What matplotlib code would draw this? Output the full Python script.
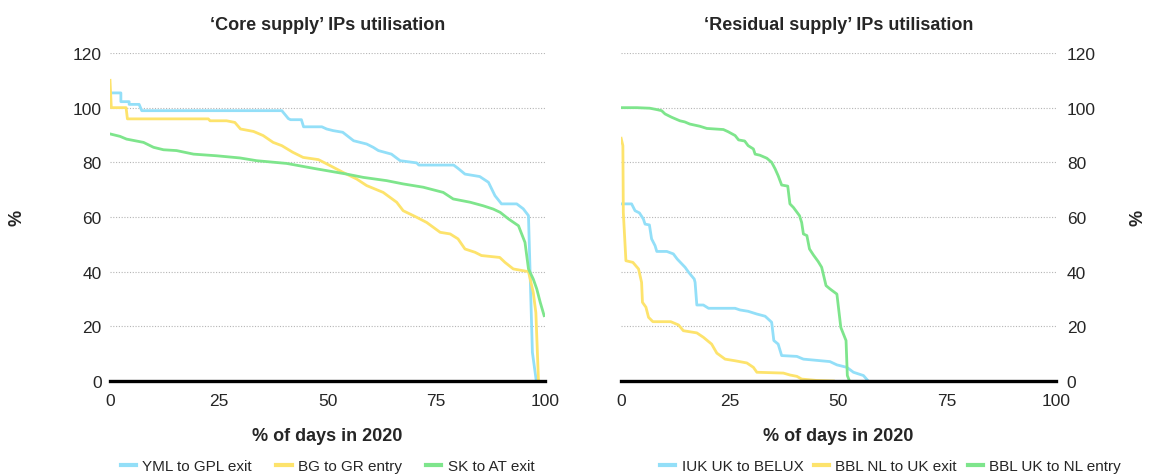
import matplotlib
matplotlib.use("Agg")
import matplotlib.pyplot as plt
from matplotlib import font_manager

# ---------------- data ----------------
core_title = "\u2018Core supply\u2019 IPs utilisation"
resid_title = "\u2018Residual supply\u2019 IPs utilisation"
x_label = "% of days in 2020"
y_label = "%"
x_ticks = [0, 25, 50, 75, 100]
y_ticks = [0, 20, 40, 60, 80, 100, 120]

yml_name = "YML to GPL exit"
yml_x = [0, 2.5, 2.5, 4.4, 4.4, 6.7, 7.3, 39.5, 41, 41.5, 44, 44.5, 48.7, 49.8, 51.3, 53.5, 56, 59,
         60.5, 61.7, 64.7, 66.7, 70.5, 71, 79, 80, 81.6, 85, 87, 88.5, 90, 93.5, 95, 96.2, 97.1, 98]
yml_y = [105.4, 105.4, 102.2, 102.2, 101.2, 101.2, 98.9, 98.9, 96, 95.6, 95.6, 93, 93, 92.2, 91.6, 91,
         87.9, 86.7, 85.5, 84.3, 83, 80.6, 79.8, 79, 79, 77.8, 75.7, 74.8, 72.7, 67.8, 64.8, 64.8, 63,
         60.5, 10.5, 0]

bg_name = "BG to GR entry"
bg_x = [0, 0.3, 3.7, 4, 22.6, 23, 26.8, 28.7, 30, 33, 35.2, 37.5, 39.5, 42, 44.4, 47.9, 50.6, 53.6,
        56.7, 59, 62.8, 65.9, 67.4, 70.5, 72.8, 75.9, 78.2, 80, 81.6, 83.9, 85.4, 89.6, 90.8, 92.7,
        96.2, 97.3, 97.9, 98.5]
bg_y = [110, 100, 100, 95.9, 95.9, 95.2, 95.2, 94.6, 92.2, 91.3, 89.8, 87.3, 86.1, 83.7, 81.8, 81,
        78.8, 76.3, 73.9, 71.5, 69, 65.4, 62.3, 59.9, 58, 54.4, 53.8, 52, 48.3, 47.1, 45.9, 45.2, 43.4,
        41, 40, 32.4, 25, 0]

sk_name = "SK to AT exit"
sk_x = [0, 2.3, 3.8, 7.7, 10, 12.3, 15.3, 19.2, 24.5, 29.9, 33.7, 40.6, 47.5, 54.4, 58.2, 63.6, 67.4,
        72, 76.6, 78.9, 82.8, 85.8, 88.1, 89.7, 91.6, 93.9, 95.4, 96.2, 97.3, 98.1, 98.9, 99.8]
sk_y = [90.4, 89.5, 88.5, 87.3, 85.5, 84.6, 84.3, 83, 82.4, 81.6, 80.6, 79.6, 77.6, 75.7, 74.5, 73.3,
        72.1, 70.9, 69, 66.6, 65.4, 64.1, 62.9, 61.7, 59.3, 56.8, 50.7, 41, 37.3, 33.7, 28.8, 23.9]

iuk_name = "IUK UK to BELUX"
iuk_x = [0, 2.5, 3.3, 4.3, 5.2, 5.6, 6.6, 7.1, 7.9, 8.3, 10.6, 12.1, 13, 14.8, 15.6, 16.9, 17.1, 17.5,
         19, 20.2, 26.3, 27.4, 29.3, 31.3, 33.2, 34.7, 35.2, 36.2, 37, 40.5, 42, 48.1, 49.7, 52, 53.5,
         55.8, 56.9]
iuk_y = [64.8, 64.8, 62.3, 61.5, 59.3, 57.4, 57.1, 52, 49.5, 47.4, 47.4, 46.5, 44.6, 41.6, 39.8, 37.3,
         36.1, 27.8, 27.8, 26.6, 26.6, 26, 25.5, 24.5, 23.7, 21.5, 14.8, 13.5, 9.3, 9, 8, 7.1, 5.9, 5,
         3.2, 2, 0]

bblnl_name = "BBL NL to UK exit"
bblnl_x = [0.1, 0.5, 0.6, 1.2, 2.8, 4.1, 4.8, 5, 5.8, 6.4, 7.4, 11.5, 13.3, 14.4, 17.5, 19, 20.9, 22.1,
           24, 26.3, 29, 30.5, 31.3, 37.4, 38.9, 40.5, 41.6, 45, 48.9]
bblnl_y = [88.8, 86.1, 61.7, 44, 43.4, 41, 36.1, 28.8, 27, 23.3, 21.7, 21.7, 20.5, 18.4, 17.6, 16, 13.5,
           10.2, 8, 7.4, 6.6, 5, 3.2, 2.9, 2.2, 1.7, 0.7, 0.2, 0]

bbluk_name = "BBL UK to NL entry"
bbluk_x = [0, 3.7, 6.7, 8.3, 9.4, 10.2, 11.7, 13.6, 14.7, 15.9, 18.2, 19.8, 23.6, 24.7, 26.3, 27.1,
           28.5, 29.3, 30.5, 30.9, 32, 33.6, 34.7, 35.5, 36.2, 37, 38.4, 38.9, 39.7, 41.1, 41.6, 42,
           42.8, 43.4, 44.3, 45.4, 46.2, 47.2, 48.1, 49.7, 50.6, 51.8, 52.1, 52.6]
bbluk_y = [100, 100, 99.8, 99.3, 98.9, 97.7, 96.5, 95.2, 94.8, 94, 93.2, 92.4, 92, 91.2, 89.8, 88.2,
           87.8, 86.1, 84.9, 83, 82.6, 81.5, 80, 77.6, 75.1, 71.7, 71.3, 64.8, 63.5, 60.5, 58, 53.8,
           53.2, 48.3, 46.1, 43.7, 41.6, 34.9, 33.7, 31.8, 19.6, 14.8, 2, 0]

# ---------------- style ----------------
names = {f.name for f in font_manager.fontManager.ttflist}
fam = ["Liberation Sans Narrow", "Liberation Sans", "DejaVu Sans"]
fam = [f for f in fam if f in names] or ["DejaVu Sans"]
plt.rcParams["font.family"] = fam
TXT = "#262626"
BLUE, YELLOW, GREEN = "#93DFF8", "#FDE36C", "#7EE58C"
LW = 2.0

fig = plt.figure(figsize=(11.49, 4.77), dpi=100)
W, H = 1149, 477
axL = fig.add_axes([110 / W, 1 - 382 / H, 435 / W, 328 / H])
axR = fig.add_axes([620.7 / W, 1 - 382 / H, 435 / W, 328 / H])


def style(ax, title, right=False):
    ax.set_xlim(0, 100)
    ax.set_ylim(0, 120)
    ax.set_xticks(x_ticks)
    ax.set_yticks(y_ticks)
    for s in ["left", "right", "top"]:
        ax.spines[s].set_visible(False)
    ax.spines["bottom"].set_linewidth(2.4)
    ax.spines["bottom"].set_color("black")
    ax.spines["bottom"].set_zorder(5)
    ax.grid(axis="y", color="#b5b5b5", linestyle=(0, (1, 1.5)), linewidth=0.8)
    ax.set_axisbelow(True)
    ax.tick_params(axis="both", length=0, labelsize=12.5, colors=TXT)
    ax.tick_params(axis="x", pad=9)
    if right:
        ax.yaxis.tick_right()
        ax.tick_params(axis="y", pad=8)
    else:
        ax.tick_params(axis="y", pad=6)
    ax.set_title(title, fontsize=13, fontweight="bold", color=TXT, pad=17)
    ax.set_xlabel(x_label, fontsize=13, fontweight="bold", color=TXT, labelpad=13)


style(axL, core_title)
style(axR, resid_title, right=True)

axL.plot(yml_x, yml_y, color=BLUE, lw=LW, label=yml_name)
axL.plot(bg_x, bg_y, color=YELLOW, lw=LW, label=bg_name)
axL.plot(sk_x, sk_y, color=GREEN, lw=LW, label=sk_name)

axR.plot(iuk_x, iuk_y, color=BLUE, lw=LW, label=iuk_name)
axR.plot(bblnl_x, bblnl_y, color=YELLOW, lw=LW, label=bblnl_name)
axR.plot(bbluk_x, bbluk_y, color=GREEN, lw=LW, label=bbluk_name)

legkw = dict(ncol=3, frameon=False, handlelength=1.0, handletextpad=0.4, fontsize=11,
             labelcolor=TXT, loc="center")
lgL = axL.legend(bbox_to_anchor=(0.5, -0.259), columnspacing=1.6, **legkw)
lgR = axR.legend(bbox_to_anchor=(0.62, -0.259), columnspacing=0.7, **legkw)
for lg in (lgL, lgR):
    for h in lg.legend_handles:
        h.set_linewidth(3)

fig.text(17 / W, 1 - 218 / H, y_label, rotation=90, fontsize=13, fontweight="bold",
         color=TXT, ha="center", va="center")
fig.text(1138 / W, 1 - 218 / H, y_label, rotation=90, fontsize=13, fontweight="bold",
         color=TXT, ha="center", va="center")

fig.savefig("out.png", dpi=100)
